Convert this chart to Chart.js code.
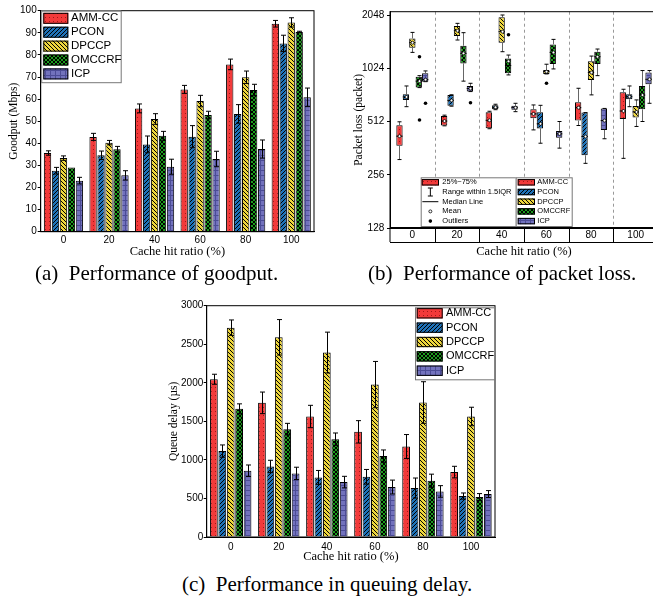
<!DOCTYPE html>
<html>
<head>
<meta charset="utf-8">
<script src="https://cdn.jsdelivr.net/npm/chart.js@4.4.1/dist/chart.umd.min.js"></script>
<style>
  body { margin: 0; width: 653px; height: 600px; overflow: hidden; position: relative; background: #fff; }
  canvas { position: absolute; }
  .cap { position: absolute; font: 21px/21px "Liberation Serif", serif; white-space: nowrap; color: #000; }
</style>
</head>
<body>
<canvas id="goodputChart" width="330" height="262" style="left:0;top:0"></canvas>
<canvas id="lossChart" width="340" height="262" style="left:330px;top:0"></canvas>
<canvas id="delayChart" width="360" height="275" style="left:150px;top:290px"></canvas>
<div class="cap" style="left:35px;top:263px">(a)&nbsp; Performance of goodput.</div>
<div class="cap" style="left:368px;top:263px">(b)&nbsp; Performance of packet loss.</div>
<div class="cap" style="left:182px;top:574px">(c)&nbsp; Performance in queuing delay.</div>
<script>
const categories = ['0', '20', '40', '60', '80', '100'];
const algorithms = ['AMM-CC', 'PCON', 'DPCCP', 'OMCCRF', 'ICP'];

// (a) goodput in Mbps, with error half-widths
const goodputAMM    = [35.6, 42.9, 55.8, 64.4, 75.7, 94.1];
const goodputPCON   = [27.6, 34.6, 39.5, 43.0, 53.3, 85.2];
const goodputDPCCP  = [33.3, 40.3, 51.0, 59.1, 69.9, 94.7];
const goodputOMCCRF = [29.0, 37.3, 43.4, 52.8, 64.1, 90.4];
const goodputICP    = [23.1, 25.5, 29.4, 32.9, 37.4, 60.8];
const goodputErrAMM    = [1.0, 1.6, 2.0, 1.8, 2.4, 1.5];
const goodputErrPCON   = [1.5, 1.9, 3.8, 5.0, 4.2, 3.7];
const goodputErrDPCCP  = [1.0, 1.0, 2.4, 2.6, 2.8, 2.1];
const goodputErrOMCCRF = [0, 1.3, 2.0, 1.7, 2.6, 0.3];
const goodputErrICP    = [1.5, 2.1, 3.4, 3.5, 4.1, 4.2];

// (b) packet loss: [lower whisker, Q1, median, Q3, upper whisker] per ratio
const lossAMM     = [[312, 373, 423, 488, 510], [484, 486, 515, 550, 556], [466, 469, 520, 577, 585], [459, 534, 565, 600, 635], [486, 518, 613, 657, 789], [317, 529, 587, 749, 779]];
const lossPCON    = [[621, 678, 705, 730, 813], [625, 628, 674, 722, 725], [597, 600, 616, 632, 641], [386, 468, 497, 577, 632], [297, 330, 421, 575, 575], [621, 684, 707, 730, 813]];
const lossDPCCP   = [[1259, 1338, 1428, 1510, 1633], [1479, 1557, 1669, 1775, 1837], [1270, 1428, 1648, 1987, 2048], [951, 951, 980, 1002, 1079], [724, 880, 968, 1120, 1200], [480, 539, 580, 627, 678]];
const lossOMCCRF  = [[796, 796, 866, 918, 930], [866, 1091, 1243, 1373, 1627], [939, 960, 1060, 1164, 1216], [1015, 1082, 1259, 1397, 1491], [930, 1082, 1190, 1270, 1315], [512, 600, 722, 813, 994]];
const lossICP     = [[860, 860, 883, 960, 989], [756, 756, 786, 813, 842], [582, 597, 613, 628, 649], [362, 414, 436, 453, 512], [409, 459, 518, 607, 607], [649, 831, 887, 968, 994]];
const lossMeanAMM    = [423, 515, 520, 565, 613, 587];
const lossMeanPCON   = [705, 674, 616, 497, 421, 707];
const lossMeanDPCCP  = [1428, 1669, 1648, 980, 968, 580];
const lossMeanOMCCRF = [866, 1243, 1120, 1259, 1190, 722];
const lossMeanICP    = [883, 786, 613, 436, 518, 887];
const lossOutAMM     = [[], [], [], [], [], []];
const lossOutPCON    = [[], [], [], [], [], []];
const lossOutDPCCP   = [[], [], [], [842], [], []];
const lossOutOMCCRF  = [[1190, 522], [], [1585], [], [], []];
const lossOutICP     = [[649], [654], [], [], [], []];
const lossTicks = [128, 256, 512, 1024, 2048];

// (c) queue delay in microseconds, with error half-widths
const delayAMM    = [2046, 1740, 1563, 1364, 1174, 842];
const delayPCON   = [1114, 915, 773, 781, 635, 531];
const delayDPCCP  = [2715, 2590, 2392, 1977, 1744, 1563];
const delayOMCCRF = [1662, 1399, 1269, 1049, 730, 518];
const delayICP    = [859, 825, 712, 648, 591, 557];
const delayErrAMM    = [65, 140, 145, 145, 155, 75];
const delayErrPCON   = [80, 80, 90, 95, 130, 40];
const delayErrDPCCP  = [100, 230, 265, 300, 270, 120];
const delayErrOMCCRF = [65, 75, 80, 80, 85, 45];
const delayErrICP    = [75, 80, 75, 90, 75, 45];

Chart.defaults.color = '#000';
Chart.defaults.animation = false;

function makePattern(kind, bg, fg) {
  const c = document.createElement('canvas');
  const s = kind === 'grid' ? 5 : 4;
  c.width = s; c.height = s;
  const g = c.getContext('2d');
  g.fillStyle = bg;
  g.fillRect(0, 0, s, s);
  g.strokeStyle = fg;
  g.fillStyle = fg;
  g.lineWidth = 1;
  g.beginPath();
  if (kind === 'dots') {
    g.fillRect(1, 1, 1, 1);
  }
  if (kind === 'slash' || kind === 'cross') {
    g.moveTo(-1, 5); g.lineTo(5, -1);
    g.moveTo(-1, 1); g.lineTo(1, -1);
    g.moveTo(3, 5); g.lineTo(5, 3);
  }
  if (kind === 'back' || kind === 'cross') {
    g.moveTo(-1, -1); g.lineTo(5, 5);
    g.moveTo(-1, 3); g.lineTo(1, 5);
    g.moveTo(3, -1); g.lineTo(5, 1);
  }
  if (kind === 'grid') {
    g.moveTo(0.5, 0); g.lineTo(0.5, s);
    g.moveTo(0, 0.5); g.lineTo(s, 0.5);
  }
  g.stroke();
  return g.createPattern(c, 'repeat');
}

const fills = [
  makePattern('dots', '#f23a3a', '#a01818'),
  makePattern('slash', '#1f72b8', '#000'),
  makePattern('back', '#eed63c', '#000'),
  makePattern('cross', '#1a9c1a', '#000'),
  makePattern('grid', '#7272bd', '#4c4c96')
];

const tickFont = { family: 'Liberation Sans', size: 10 };
const xTitleFont = { family: 'Liberation Serif', size: 12.5 };
const yTitleFont = { family: 'Liberation Serif', size: 11.5 };

// box round the plot area
const frame = {
  id: 'frame',
  afterDraw(chart) {
    const { ctx, chartArea: a } = chart;
    ctx.save();
    ctx.strokeStyle = '#000';
    ctx.lineWidth = 1;
    ctx.strokeRect(a.left, a.top, a.right - a.left, a.bottom - a.top);
    ctx.restore();
  }
};

const errorBars = {
  id: 'errorBars',
  afterDatasetsDraw(chart) {
    const ctx = chart.ctx, y = chart.scales.y;
    ctx.save();
    ctx.strokeStyle = '#000';
    ctx.lineWidth = 1;
    chart.data.datasets.forEach((ds, d) => {
      chart.getDatasetMeta(d).data.forEach((bar, i) => {
        const v = ds.data[i], e = ds.errors[i];
        if (!e) return;
        const top = y.getPixelForValue(v + e), bot = y.getPixelForValue(v - e);
        const x = Math.round(bar.x) + 0.5;
        ctx.beginPath();
        ctx.moveTo(x, top); ctx.lineTo(x, bot);
        ctx.moveTo(x - 2.5, top); ctx.lineTo(x + 2.5, top);
        ctx.moveTo(x - 2.5, bot); ctx.lineTo(x + 2.5, bot);
        ctx.stroke();
      });
    });
    ctx.restore();
  }
};

function drawSymbol(ctx, kind, x, y) {
  ctx.strokeStyle = '#000';
  ctx.beginPath();
  if (kind === 'range') {
    ctx.lineWidth = 1;
    ctx.moveTo(x, y - 4); ctx.lineTo(x, y + 4);
    ctx.moveTo(x - 2.5, y - 4); ctx.lineTo(x + 2.5, y - 4);
    ctx.moveTo(x - 2.5, y + 4); ctx.lineTo(x + 2.5, y + 4);
    ctx.stroke();
  } else if (kind === 'median') {
    ctx.lineWidth = 1;
    ctx.moveTo(x - 8, y); ctx.lineTo(x + 8, y);
    ctx.stroke();
  } else if (kind === 'mean') {
    ctx.lineWidth = 0.8;
    ctx.fillStyle = '#fff';
    ctx.arc(x, y, 1.5, 0, Math.PI * 2);
    ctx.fill(); ctx.stroke();
  } else {
    ctx.fillStyle = '#000';
    ctx.arc(x, y, 1.8, 0, Math.PI * 2);
    ctx.fill();
  }
}

// legend drawn inside the plot; config kept out of chart options
function keyBox(key) {
  return {
    id: 'keyBox',
    afterDraw(chart) {
      const ctx = chart.ctx;
      ctx.save();
      key.frames.forEach(f => {
        ctx.fillStyle = '#fff';
        ctx.fillRect(f[0], f[1], f[2], f[3]);
        ctx.strokeStyle = '#777';
        ctx.lineWidth = 1;
        ctx.strokeRect(f[0] + 0.5, f[1] + 0.5, f[2], f[3]);
      });
      key.items.forEach(it => {
        const [px, py, pw, ph] = it.patch;
        if (it.swatch) {
          ctx.fillStyle = it.swatch;
          ctx.fillRect(px, py - ph / 2, pw, ph);
          ctx.strokeStyle = '#000';
          ctx.lineWidth = 1;
          ctx.strokeRect(px + 0.5, py - ph / 2 + 0.5, pw - 1, ph - 1);
        } else {
          drawSymbol(ctx, it.mark, px + pw / 2, py);
        }
        ctx.font = key.font;
        ctx.textBaseline = 'middle';
        ctx.fillStyle = '#000';
        ctx.fillText(it.text, it.tx, py);
      });
      ctx.restore();
    }
  };
}

function keyItems(x0, y0, dy, pw, ph, tx) {
  return algorithms.map((name, k) => ({ text: name, swatch: fills[k], patch: [x0, y0 + k * dy, pw, ph], tx: tx }));
}

function barSets(values, errors) {
  return algorithms.map((name, k) => ({
    label: name,
    data: values[k],
    errors: errors[k],
    backgroundColor: fills[k],
    borderColor: '#000',
    borderWidth: 1,
    categoryPercentage: 0.875,
    barPercentage: 0.92
  }));
}

function barOptions(g) {
  return {
    responsive: false,
    layout: { padding: { left: 0, top: g.top, right: g.right, bottom: 0 } },
    plugins: {
      legend: { display: false },
      tooltip: { enabled: false }
    },
    scales: {
      x: {
        grid: { display: false, drawTicks: false },
        border: { color: '#000' },
        ticks: { font: tickFont, padding: g.xPad },
        title: { display: true, text: 'Cache hit ratio (%)', font: xTitleFont, padding: { top: 0, bottom: g.xTitlePad } },
        afterFit: s => { s.height = g.xHeight; }
      },
      y: {
        min: 0, max: g.max,
        grid: { drawOnChartArea: false, tickLength: 3, color: '#000' },
        border: { color: '#000' },
        ticks: { font: tickFont, padding: g.yPad, stepSize: g.step, callback: v => String(v) },
        title: { display: true, text: g.yTitle, font: yTitleFont, padding: { top: g.yTitlePad, bottom: 0 } },
        afterFit: s => { s.width = g.yWidth; }
      }
    }
  };
}

new Chart(document.getElementById('goodputChart'), {
  type: 'bar',
  data: {
    labels: categories,
    datasets: barSets(
      [goodputAMM, goodputPCON, goodputDPCCP, goodputOMCCRF, goodputICP],
      [goodputErrAMM, goodputErrPCON, goodputErrDPCCP, goodputErrOMCCRF, goodputErrICP])
  },
  options: barOptions({
    top: 10.7, right: 16, xHeight: 30.3, xPad: 2.3, xTitlePad: 2.8,
    yWidth: 40.7, yPad: 1, yTitlePad: 7.4, max: 100, step: 10, yTitle: 'Goodput (Mbps)'
  }),
  plugins: [frame, errorBars, keyBox({
    frames: [[41.2, 10.7, 79.5, 71.5]],
    font: '11.5px "Liberation Sans"',
    items: keyItems(43.3, 18.3, 13.9, 25, 11, 71)
  })]
});

new Chart(document.getElementById('delayChart'), {
  type: 'bar',
  data: {
    labels: categories,
    datasets: barSets(
      [delayAMM, delayPCON, delayDPCCP, delayOMCCRF, delayICP],
      [delayErrAMM, delayErrPCON, delayErrDPCCP, delayErrOMCCRF, delayErrICP])
  },
  options: barOptions({
    top: 15.7, right: 15, xHeight: 28, xPad: 4, xTitlePad: 0.8,
    yWidth: 56.7, yPad: 0.4, yTitlePad: 16.7, max: 3000, step: 500, yTitle: 'Queue delay (\u00b5s)'
  }),
  plugins: [frame, errorBars, keyBox({
    frames: [[265, 17.3, 79.3, 72]],
    font: '11px "Liberation Sans"',
    items: keyItems(266.7, 23.3, 14.35, 26, 10.3, 296)
  })]
});

// (b) box plot: IQR boxes are floating bars, whiskers and dots use the same scales
const lossStats = [lossAMM, lossPCON, lossDPCCP, lossOMCCRF, lossICP];
const lossMeans = [lossMeanAMM, lossMeanPCON, lossMeanDPCCP, lossMeanOMCCRF, lossMeanICP];
const lossOutliers = [lossOutAMM, lossOutPCON, lossOutDPCCP, lossOutOMCCRF, lossOutICP];

const boxMarks = {
  id: 'boxMarks',
  afterDatasetsDraw(chart) {
    const ctx = chart.ctx, y = chart.scales.y;
    const py = v => y.getPixelForValue(v);
    ctx.save();
    chart.getSortedVisibleDatasetMetas().forEach(meta => {
      const k = meta.index;
      meta.data.forEach((box, i) => {
        const [lo, q1, med, q3, hi] = lossStats[k][i];
        const x = Math.round(box.x) + 0.5, half = box.width / 2;
        ctx.lineWidth = 1;
        ctx.strokeStyle = '#666';
        ctx.beginPath();
        ctx.moveTo(x, py(hi)); ctx.lineTo(x, py(q3));
        ctx.moveTo(x, py(q1)); ctx.lineTo(x, py(lo));
        ctx.stroke();
        ctx.strokeStyle = '#000';
        ctx.beginPath();
        ctx.moveTo(x - 2, py(hi)); ctx.lineTo(x + 2, py(hi));
        ctx.moveTo(x - 2, py(lo)); ctx.lineTo(x + 2, py(lo));
        ctx.moveTo(box.x - half, py(med)); ctx.lineTo(box.x + half, py(med));
        ctx.stroke();
        drawSymbol(ctx, 'mean', x, py(lossMeans[k][i]));
        lossOutliers[k][i].forEach(v => drawSymbol(ctx, 'outlier', x, py(v)));
      });
    });
    ctx.restore();
  }
};

// dashed group separators and the label row under the axis
function groupEdge(x, i, a) {
  if (i === 0) return a.left;
  if (i === categories.length) return a.right;
  return Math.round((x.getPixelForTick(i - 1) + x.getPixelForTick(i)) / 2) + 0.5;
}

const lossTable = {
  id: 'lossTable',
  beforeDatasetsDraw(chart) {
    const { ctx, chartArea: a, scales: { x } } = chart;
    ctx.save();
    ctx.strokeStyle = '#999';
    ctx.lineWidth = 1;
    ctx.setLineDash([3, 3]);
    for (let i = 1; i < categories.length; i++) {
      const px = groupEdge(x, i, a);
      ctx.beginPath(); ctx.moveTo(px, a.top); ctx.lineTo(px, a.bottom); ctx.stroke();
    }
    ctx.restore();
  },
  afterDraw(chart) {
    const { ctx, chartArea: a, scales: { x } } = chart;
    const y2 = a.bottom + 14;
    ctx.save();
    ctx.strokeStyle = '#000';
    ctx.lineWidth = 1;
    ctx.beginPath();
    for (let i = 0; i <= categories.length; i++) {
      const px = groupEdge(x, i, a);
      ctx.moveTo(px, a.bottom); ctx.lineTo(px, y2);
    }
    ctx.moveTo(a.left, y2 + 0.5); ctx.lineTo(a.right, y2 + 0.5);
    ctx.stroke();
    ctx.lineWidth = 2;
    ctx.beginPath();
    ctx.moveTo(a.left, a.bottom); ctx.lineTo(a.right, a.bottom);
    ctx.stroke();
    ctx.restore();
  }
};

const lossKeyLeft = [
  { text: '25%~75%', swatch: fills[0], patch: [91.7, 182.3, 17.3, 6.4], tx: 112.3 },
  { text: 'Range within 1.5IQR', mark: 'range', patch: [91.7, 192.0, 17.3, 6.4], tx: 112.3 },
  { text: 'Median Line', mark: 'median', patch: [91.7, 201.7, 17.3, 6.4], tx: 112.3 },
  { text: 'Mean', mark: 'mean', patch: [91.7, 211.4, 17.3, 6.4], tx: 112.3 },
  { text: 'Outliers', mark: 'outlier', patch: [91.7, 221.1, 17.3, 6.4], tx: 112.3 }
];

new Chart(document.getElementById('lossChart'), {
  type: 'bar',
  data: {
    labels: categories,
    datasets: algorithms.map((name, k) => ({
      label: name,
      data: lossStats[k].map(s => [s[1], s[3]]),
      backgroundColor: fills[k],
      borderColor: '#000',
      borderWidth: 1,
      borderSkipped: false,
      categoryPercentage: 0.72,
      barPercentage: 0.98
    }))
  },
  options: {
    responsive: false,
    layout: { padding: { left: 0, top: 11.7, right: 12, bottom: 0 } },
    plugins: {
      legend: { display: false },
      tooltip: { enabled: false }
    },
    scales: {
      x: {
        grid: { display: false, drawTicks: false },
        border: { display: false },
        ticks: { font: tickFont, padding: 1 },
        title: { display: true, text: 'Cache hit ratio (%)', font: xTitleFont, padding: { top: 0, bottom: 2.8 } },
        afterFit: s => { s.height = 34; }
      },
      y: {
        type: 'logarithmic',
        min: 128, max: 2138,
        afterBuildTicks: s => { s.ticks = lossTicks.map(v => ({ value: v })); },
        grid: { drawOnChartArea: false, tickLength: 3, color: '#000' },
        border: { color: '#000' },
        ticks: { font: tickFont, padding: 2.7, callback: v => String(v) },
        title: { display: true, text: 'Packet loss (packet)', font: yTitleFont, padding: { top: 21.7, bottom: 0 } },
        afterFit: s => { s.width = 60; }
      }
    }
  },
  plugins: [frame, lossTable, boxMarks, keyBox({
    frames: [[90.7, 177.3, 95, 48.7], [185.7, 177.3, 56, 48.7]],
    font: '7.5px "Liberation Sans"',
    items: lossKeyLeft.concat(keyItems(187.7, 182.3, 9.7, 17.3, 6.4, 207.3))
  })]
});
</script>
</body>
</html>
